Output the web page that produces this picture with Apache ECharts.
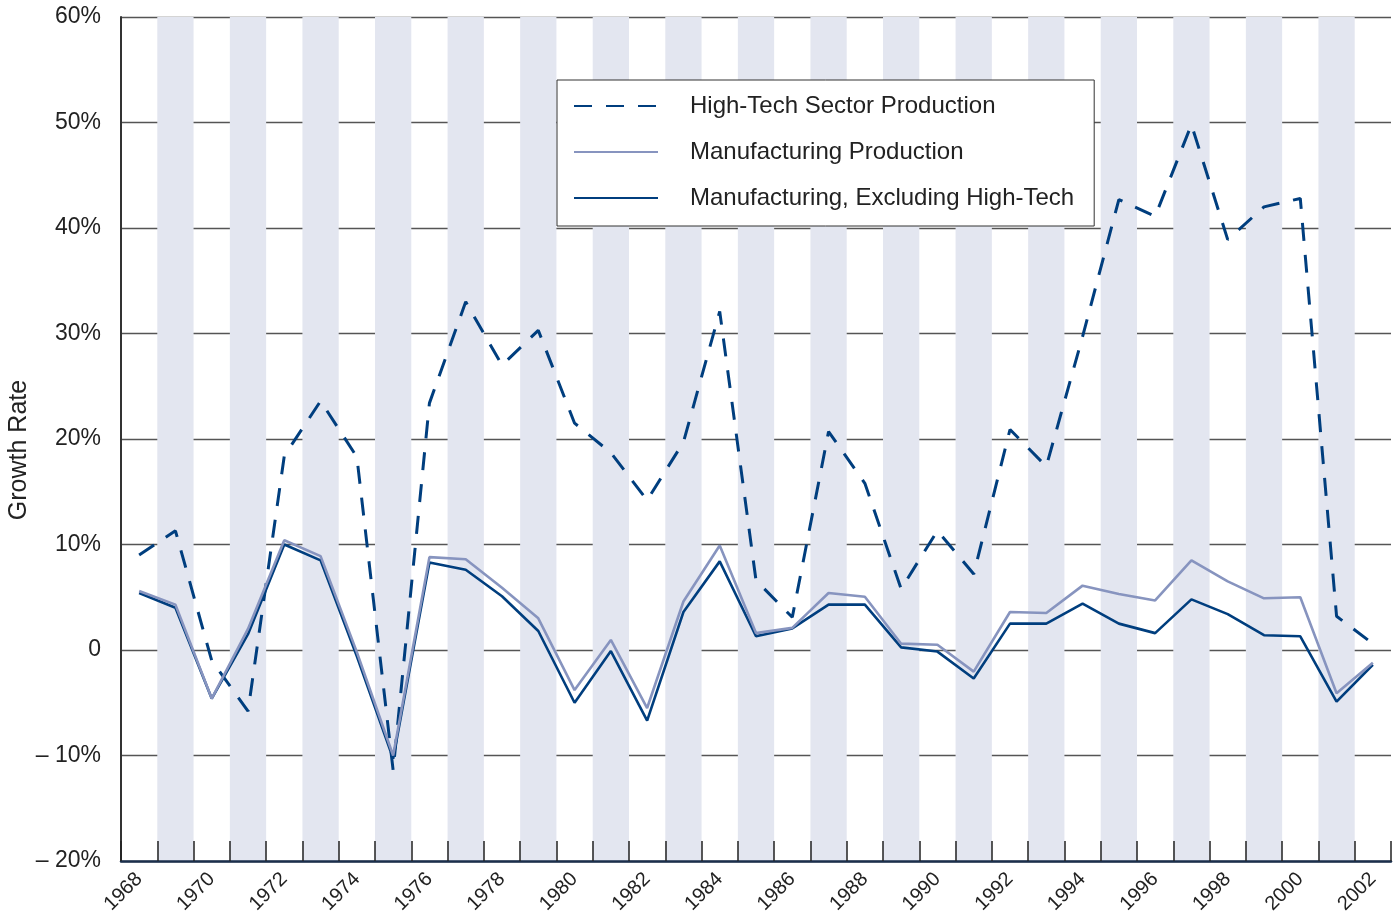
<!DOCTYPE html>
<html>
<head>
<meta charset="utf-8">
<title>Growth Rate</title>
<script src="https://cdn.jsdelivr.net/npm/echarts@6/dist/echarts.min.js"></script>
<style>
    html, body { margin: 0; padding: 0; background: #fff; }
    #main { width: 1399px; height: 916px; }
</style>
</head>
<body>
<div id="main"></div>
<script>
var years = []
for (var y = 1968; y <= 2002; y++) years.push(String(y))

// high-tech sector production, growth %
var highTech = [9.0, 11.3, -1.0, -5.8, 18.4, 23.6, 18.3, -11.4, 23.4, 33.0,
    27.0, 30.3, 21.5, 18.7, 14.2, 19.7, 32.1, 6.6, 3.1, 20.7,
    15.8, 5.8, 11.3, 7.2, 20.9, 17.4, 29.7, 42.7, 41.1, 49.8,
    38.9, 42.0, 42.8, 3.2, 0.6]
// manufacturing production
var mfg = [5.6, 4.3, -4.6, 2.0, 10.4, 8.9, -0.2, -10.0, 8.8, 8.6,
    5.9, 3.0, -3.8, 0.95, -5.5, 4.6, 9.9, 1.6, 2.1, 5.4,
    5.05, 0.6, 0.5, -2.05, 3.6, 3.5, 6.1, 5.3, 4.7, 8.5,
    6.5, 4.9, 5.0, -4.1, -1.2]
// manufacturing excluding high-tech
var mfgExHT = [5.4, 4.0, -4.6, 1.5, 10.0, 8.5, -0.6, -10.3, 8.3, 7.6,
    5.1, 1.8, -5.0, -0.1, -6.7, 3.6, 8.4, 1.3, 2.05, 4.3,
    4.3, 0.25, -0.15, -2.7, 2.5, 2.5, 4.4, 2.5, 1.6, 4.8,
    3.4, 1.4, 1.3, -4.9, -1.4]

var names = ['High-Tech Sector Production', 'Manufacturing Production', 'Manufacturing, Excluding High-Tech']

var dark = '#003e7e'
var light = '#8794bf'
var font = '"Liberation Sans", Arial, sans-serif'

var myChart = echarts.init(document.getElementById('main'))
var option = {
    animation: false,
    textStyle: { fontFamily: font },
    grid: { left: 121, right: 8, top: 17, bottom: 55, containLabel: false, outerBoundsMode: 'none' },
    legend: {
        orient: 'vertical',
        left: 557,
        top: 80,
        data: names,
        backgroundColor: '#fff',
        borderColor: '#333',
        borderWidth: 1,
        padding: [14, 20, 16, 16],
        itemWidth: 84,
        itemHeight: 14,
        itemGap: 22,
        itemStyle: { opacity: 0 },
        textStyle: { fontSize: 24, color: '#222', fontFamily: font, padding: [0, 0, 0, 27], lineHeight: 24 }
    },
    xAxis: {
        type: 'category',
        data: years,
        boundaryGap: true,
        axisLine: { onZero: false, lineStyle: { color: '#1b2f4c', width: 2.5 } },
        axisTick: { show: true, inside: true, length: 20, interval: 0, lineStyle: { color: '#222', width: 1.5 } },
        axisLabel: { interval: 1, rotate: 45, fontSize: 20, color: '#222', margin: 15, fontFamily: font },
        splitArea: { show: true, interval: 0, areaStyle: { color: ['rgba(255,255,255,0)', '#e3e6f0'] } },
        splitLine: { show: false }
    },
    yAxis: {
        type: 'value',
        min: -20,
        max: 60,
        interval: 10,
        name: 'Growth Rate',
        nameLocation: 'middle',
        nameGap: 89,
        nameMoveOverlap: false,
        nameTextStyle: { fontSize: 25, color: '#222', fontFamily: font, padding: [0, 22, 0, 0] },
        axisLine: { show: true, lineStyle: { color: '#333', width: 2 } },
        axisTick: { show: false },
        axisLabel: {
            fontSize: 23, color: '#222', margin: 20, fontFamily: font,
            formatter: function (v) {
                if (v === 0) return '0'
                if (v < 0) return '\u2013 ' + (-v) + '%'
                return v + '%'
            }
        },
        splitLine: { lineStyle: { color: '#555', width: 1.3 } }
    },
    series: [
        {
            name: names[0],
            type: 'line',
            data: highTech,
            symbol: 'none',
            lineStyle: { color: dark, width: 3, type: [18, 14] },
            itemStyle: { color: dark },
            z: 3
        },
        {
            name: names[2],
            type: 'line',
            data: mfgExHT,
            symbol: 'none',
            lineStyle: { color: dark, width: 2.6 },
            itemStyle: { color: dark },
            z: 4
        },
        {
            name: names[1],
            type: 'line',
            data: mfg,
            symbol: 'none',
            lineStyle: { color: light, width: 2.6 },
            itemStyle: { color: light },
            z: 5
        }
    ]
}
myChart.setOption(option)
</script>
</body>
</html>
